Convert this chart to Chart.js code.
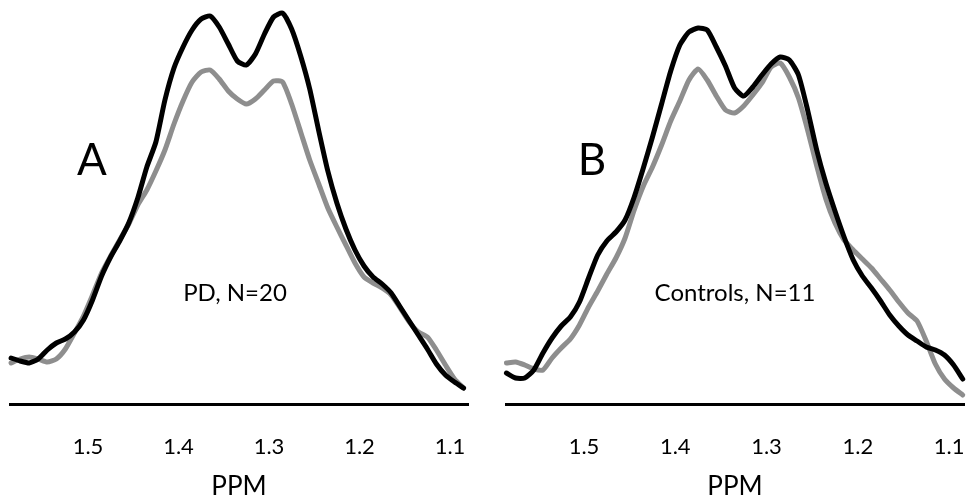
<!DOCTYPE html>
<html><head><meta charset="utf-8">
<script src="https://cdn.jsdelivr.net/npm/chart.js@4.4.1/dist/chart.umd.min.js"></script>
<style>
html,body{margin:0;padding:0;background:#fff;}
#wrap{position:relative;width:968px;height:500px;overflow:hidden;}
canvas{position:absolute;top:0;}
</style></head><body>
<div id="wrap"><canvas id="cA" width="484" height="500" style="left:0"></canvas><canvas id="cB" width="484" height="500" style="left:484px"></canvas></div>
<script>
const ppm = [1.585,1.575,1.565,1.555,1.545,1.535,1.525,1.515,1.505,1.495,1.485,1.475,1.465,1.455,1.445,1.435,1.425,1.415,1.405,1.395,1.385,1.375,1.365,1.355,1.345,1.335,1.325,1.315,1.305,1.295,1.285,1.275,1.265,1.255,1.245,1.235,1.225,1.215,1.205,1.195,1.185,1.175,1.165,1.155,1.145,1.135,1.125,1.115,1.105,1.095,1.085];
const tickValues = [1.5,1.4,1.3,1.2,1.1];

const pdBlack = [0.46,0.43,0.41,0.45,0.54,0.61,0.65,0.72,0.84,1.04,1.28,1.47,1.63,1.81,2.06,2.37,2.62,3.04,3.36,3.57,3.74,3.85,3.88,3.77,3.60,3.43,3.39,3.50,3.70,3.87,3.91,3.75,3.48,3.15,2.73,2.33,2.01,1.75,1.54,1.38,1.27,1.20,1.11,0.97,0.83,0.69,0.55,0.40,0.29,0.22,0.16];
const pdGray = [0.41,0.45,0.47,0.45,0.42,0.45,0.55,0.71,0.88,1.09,1.31,1.48,1.64,1.80,1.99,2.14,2.33,2.54,2.80,3.03,3.22,3.32,3.34,3.25,3.13,3.05,3.00,3.05,3.14,3.23,3.22,3.00,2.72,2.44,2.20,1.96,1.77,1.59,1.41,1.27,1.21,1.16,1.09,0.96,0.82,0.72,0.67,0.54,0.39,0.25,0.16];
const ctrlBlack = [0.31,0.26,0.26,0.34,0.51,0.66,0.78,0.87,1.02,1.26,1.49,1.63,1.72,1.84,2.07,2.36,2.67,3.00,3.33,3.59,3.72,3.76,3.74,3.57,3.38,3.16,3.08,3.17,3.29,3.40,3.47,3.44,3.29,2.94,2.54,2.21,1.93,1.67,1.44,1.28,1.16,1.03,0.89,0.78,0.69,0.63,0.57,0.54,0.49,0.39,0.25];
const ctrlGray = [0.41,0.42,0.39,0.35,0.34,0.46,0.56,0.65,0.79,0.97,1.13,1.30,1.46,1.66,1.94,2.18,2.37,2.59,2.83,3.03,3.24,3.35,3.24,3.08,2.94,2.91,2.98,3.09,3.21,3.37,3.41,3.27,3.06,2.74,2.38,2.05,1.81,1.64,1.54,1.45,1.36,1.25,1.14,1.02,0.91,0.83,0.63,0.40,0.25,0.16,0.09];

const panelText = {
  id: 'panelText',
  afterDatasetsDraw(chart, args, opts) {
    const ctx = chart.ctx;
    ctx.save();
    ctx.fillStyle = '#000';
    ctx.textAlign = 'center';
    ctx.textBaseline = 'middle';
    for (const t of opts.items) {
      ctx.font = t.size + 'px Lato';
      ctx.fillText(t.text, t.x, t.y);
    }
    ctx.restore();
  }
};

function makeChart(id, black, gray, xmin, xmax, padL, padR, texts) {
  const line = (vals, color) => ({
    data: ppm.map((x, i) => ({x: x, y: vals[i]})),
    borderColor: color, borderWidth: 5, pointRadius: 0, tension: 0.2,
    fill: false, borderJoinStyle: 'round', borderCapStyle: 'round', clip: false
  });
  return new Chart(document.getElementById(id), {
    type: 'line',
    data: {datasets: [line(black, '#000000'), line(gray, '#8e8e8e')]},
    options: {
      responsive: false, animation: false, devicePixelRatio: 1,
      layout: {padding: {left: padL, right: padR, top: 0, bottom: 0}},
      plugins: {legend: {display: false}, tooltip: {enabled: false}, panelText: {items: texts}},
      scales: {
        x: {
          type: 'linear', min: xmin, max: xmax, reverse: true,
          grid: {display: false, drawTicks: false},
          border: {display: true, color: '#000', width: 3},
          afterBuildTicks(s) { s.ticks = tickValues.map(v => ({value: v})); },
          afterFit(s) { s.height = 96; s.paddingLeft = 0; s.paddingRight = 0; },
          ticks: {padding: 30, color: '#000', font: {family: 'Lato', size: 22}, maxRotation: 0, autoSkip: false,
                  callback: v => Number(v).toFixed(1)},
          title: {display: true, text: 'PPM', color: '#000', font: {family: 'Lato', size: 26, lineHeight: 1.05}, padding: {top: 0, bottom: 0}}
        },
        y: {display: false, min: 0, max: 4.04}
      }
    },
    plugins: [panelText]
  });
}

makeChart('cA', pdBlack, pdGray, 1.0801, 1.5862, 10, 16,
  [{text: 'A', x: 92, y: 161, size: 44}, {text: 'PD, N=20', x: 235, y: 293, size: 24}]);
makeChart('cB', ctrlBlack, ctrlGray, 1.0836, 1.5855, 22, 4,
  [{text: 'B', x: 108, y: 161, size: 44}, {text: 'Controls, N=11', x: 251, y: 293, size: 24}]);
</script>
</body></html>
